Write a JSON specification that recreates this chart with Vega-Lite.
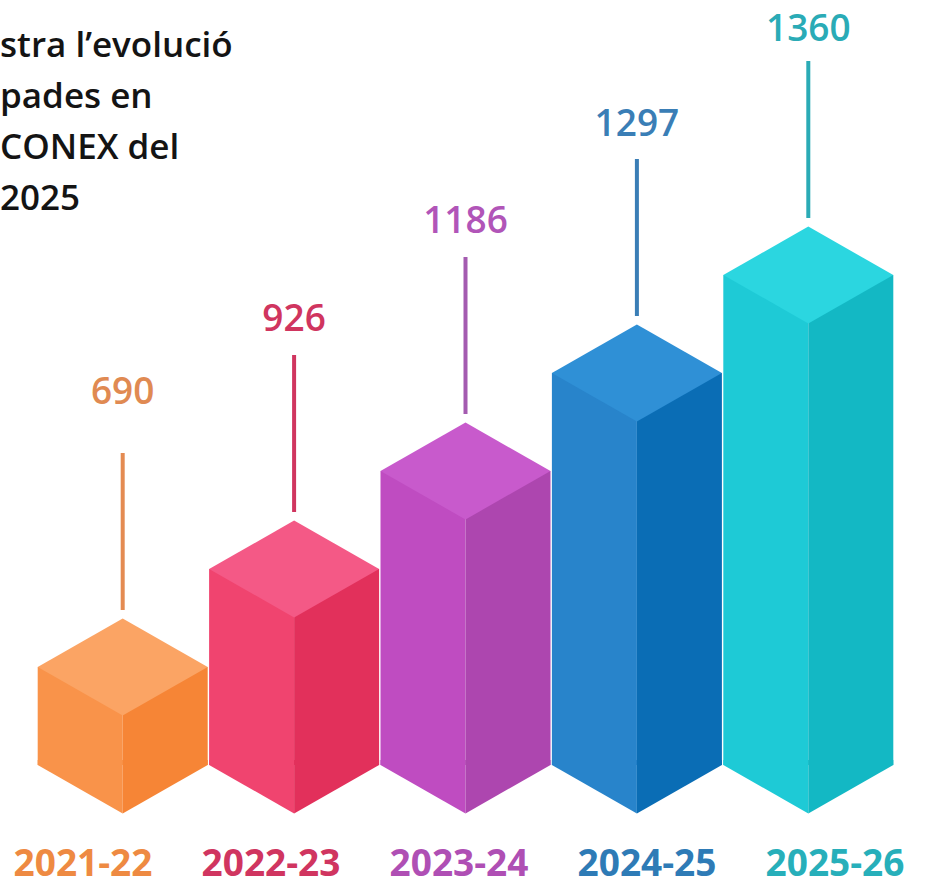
{
  "$schema": "https://vega.github.io/schema/vega-lite/v6.json",
  "width": 934,
  "height": 888,
  "padding": 0,
  "autosize": {"type": "none"},
  "background": "white",
  "config": {"view": {"stroke": null}},
  "title": {
    "text": ["stra l’evolució", "pades en", "CONEX del", "2025"],
    "anchor": "start",
    "frame": "group",
    "orient": "top",
    "align": "left",
    "baseline": "alphabetic",
    "font": "Open Sans",
    "fontSize": 35,
    "fontWeight": 600,
    "color": "#141414",
    "lineHeight": 51,
    "offset": 0,
    "dx": 0,
    "dy": 245
  },
  "data": {
    "values": [
      {"curs": "2021-22", "places": 690},
      {"curs": "2022-23", "places": 926},
      {"curs": "2023-24", "places": 1186},
      {"curs": "2024-25", "places": 1297},
      {"curs": "2025-26", "places": 1360}
    ]
  },
  "layer": [
    {
      "encoding": {
        "x": {"field": "curs", "type": "nominal", "sort": null, "axis": null,
              "scale": {"type": "band", "range": [37, 894], "paddingInner": 0, "paddingOuter": 0}}
      },
      "layer": [
        {
          "mark": {"type": "bar", "width": 85, "xOffset": -42.5, "cornerRadius": 0},
          "encoding": {
            "y": {"field": "places", "type": "quantitative", "axis": null,
                  "scale": {"domain": [0, 690, 926, 1186, 1297, 1360], "range": [765, 667, 569, 471, 373, 275], "nice": false, "zero": false}},
            "y2": {"datum": 0},
            "color": {"field": "curs", "type": "nominal", "legend": null, "sort": null,
                      "scale": {"domain": ["2021-22", "2022-23", "2023-24", "2024-25", "2025-26"], "range": ["#F9934A", "#F0446F", "#BF4CC1", "#2884CB", "#1ECAD6"]}}
          }
        },
        {
          "mark": {"type": "point", "shape": "M-1,-0.06L0,-0.06L0,0.57L-1,0Z", "size": 28900, "filled": true, "opacity": 1, "strokeWidth": 0},
          "encoding": {
            "y": {"datum": 0, "type": "quantitative", "axis": null,
                  "scale": {"domain": [0, 690, 926, 1186, 1297, 1360], "range": [765, 667, 569, 471, 373, 275], "nice": false, "zero": false}},
            "color": {"field": "curs", "type": "nominal", "legend": null, "sort": null,
                      "scale": {"domain": ["2021-22", "2022-23", "2023-24", "2024-25", "2025-26"], "range": ["#F9934A", "#F0446F", "#BF4CC1", "#2884CB", "#1ECAD6"]}}
          }
        },
        {
          "mark": {"type": "bar", "width": 85, "xOffset": 42.5, "cornerRadius": 0},
          "encoding": {
            "y": {"field": "places", "type": "quantitative", "axis": null,
                  "scale": {"domain": [0, 690, 926, 1186, 1297, 1360], "range": [765, 667, 569, 471, 373, 275], "nice": false, "zero": false}},
            "y2": {"datum": 0},
            "color": {"field": "curs", "type": "nominal", "legend": null, "sort": null,
                      "scale": {"domain": ["2021-22", "2022-23", "2023-24", "2024-25", "2025-26"], "range": ["#F68536", "#E2305B", "#AD46AF", "#0A6DB5", "#13B8C4"]}}
          }
        },
        {
          "mark": {"type": "point", "shape": "M0,-0.06L1,-0.06L1,0L0,0.57Z", "size": 28900, "filled": true, "opacity": 1, "strokeWidth": 0},
          "encoding": {
            "y": {"datum": 0, "type": "quantitative", "axis": null,
                  "scale": {"domain": [0, 690, 926, 1186, 1297, 1360], "range": [765, 667, 569, 471, 373, 275], "nice": false, "zero": false}},
            "color": {"field": "curs", "type": "nominal", "legend": null, "sort": null,
                      "scale": {"domain": ["2021-22", "2022-23", "2023-24", "2024-25", "2025-26"], "range": ["#F68536", "#E2305B", "#AD46AF", "#0A6DB5", "#13B8C4"]}}
          }
        },
        {
          "mark": {"type": "point", "shape": "M-1,0L0,-0.57L1,0L0,0.57Z", "size": 28900, "filled": true, "opacity": 1, "strokeWidth": 0},
          "encoding": {
            "y": {"field": "places", "type": "quantitative", "axis": null,
                  "scale": {"domain": [0, 690, 926, 1186, 1297, 1360], "range": [765, 667, 569, 471, 373, 275], "nice": false, "zero": false}},
            "color": {"field": "curs", "type": "nominal", "legend": null, "sort": null,
                      "scale": {"domain": ["2021-22", "2022-23", "2023-24", "2024-25", "2025-26"], "range": ["#FBA464", "#F45986", "#C85ACC", "#2F90D6", "#2BD6E0"]}}
          }
        },
        {
          "mark": {"type": "rule", "strokeWidth": 4, "yOffset": -214, "y2Offset": -57},
          "encoding": {
            "y": {"field": "places", "type": "quantitative", "axis": null,
                  "scale": {"domain": [0, 690, 926, 1186, 1297, 1360], "range": [765, 667, 569, 471, 373, 275], "nice": false, "zero": false}},
            "y2": {"field": "places"},
            "color": {"field": "curs", "type": "nominal", "legend": null, "sort": null,
                      "scale": {"domain": ["2021-22", "2022-23", "2023-24", "2024-25", "2025-26"], "range": ["#E48B52", "#D0355F", "#A45BB0", "#3A7EB6", "#2BABB6"]}}
          }
        }
      ],
      "resolve": {"scale": {"color": "independent"}}
    },
    {
      "mark": {"type": "text", "font": "Open Sans", "fontSize": 37, "fontWeight": 600, "baseline": "middle", "align": "center"},
      "encoding": {
        "x": {"field": "curs", "type": "nominal", "sort": null, "axis": null,
              "scale": {"type": "band", "range": [37, 894], "paddingInner": 0, "paddingOuter": 0}},
        "y": {"field": "places", "type": "quantitative", "axis": null,
              "scale": {"domain": [690, 926, 1186, 1297, 1360], "range": [393, 320, 222, 125, 30], "nice": false, "zero": false}},
        "text": {"field": "places", "type": "quantitative", "format": "d"},
        "color": {"field": "curs", "type": "nominal", "legend": null, "sort": null,
                  "scale": {"domain": ["2021-22", "2022-23", "2023-24", "2024-25", "2025-26"], "range": ["#E08A52", "#D0355F", "#B155B8", "#3A7EB6", "#2AABB6"]}}
      }
    },
    {
      "mark": {"type": "text", "font": "Open Sans", "fontSize": 37, "fontWeight": 700, "baseline": "middle", "align": "center", "dy": 100},
      "encoding": {
        "x": {"field": "curs", "type": "nominal", "sort": null, "axis": null,
              "scale": {"type": "point", "range": [83, 835], "padding": 0}},
        "y": {"datum": 0, "type": "quantitative", "axis": null,
              "scale": {"domain": [0, 1360], "range": [765, 275], "nice": false, "zero": false}},
        "text": {"field": "curs", "type": "nominal"},
        "color": {"field": "curs", "type": "nominal", "legend": null, "sort": null,
                  "scale": {"domain": ["2021-22", "2022-23", "2023-24", "2024-25", "2025-26"], "range": ["#EE8A42", "#D03560", "#AF4FB4", "#2E7BB6", "#27AFBA"]}}
      }
    }
  ],
  "resolve": {"scale": {"x": "independent", "y": "independent", "color": "independent"}}
}
